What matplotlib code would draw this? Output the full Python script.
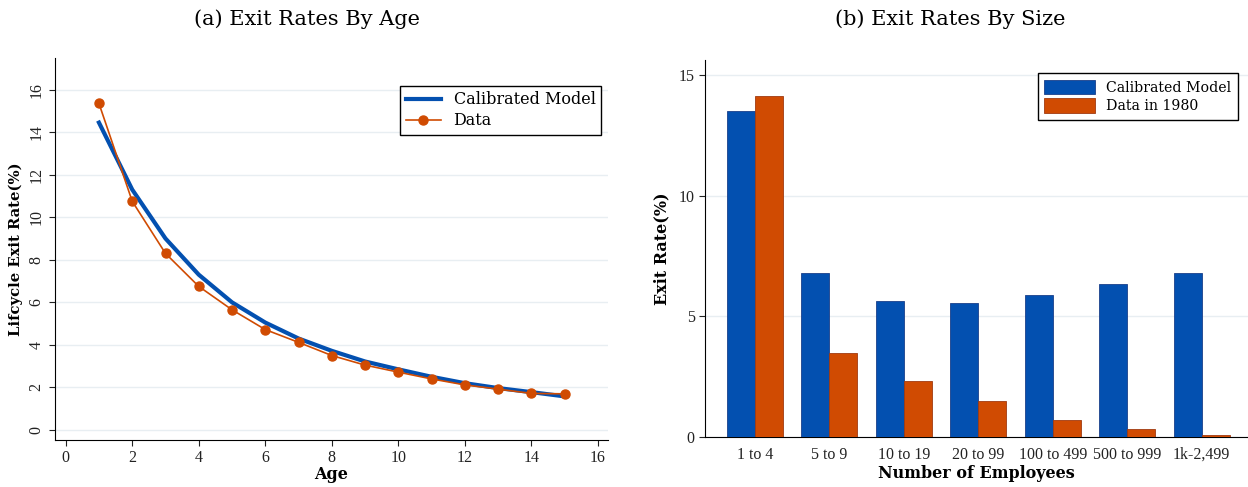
import matplotlib

matplotlib.use("Agg")
import matplotlib.pyplot as plt
import numpy as np

plt.rcParams["font.family"] = ["DejaVu Serif", "Liberation Serif"]
TICK_FONT = ["Liberation Serif", "DejaVu Serif"]

BLUE = "#0350b0"
ORANGE = "#d04b02"
GRID = "#e8eef2"

# panel (a): exit rates by age
ages = list(range(1, 16))
model_age = [14.45, 11.3, 9.0, 7.3, 6.0, 5.05, 4.3, 3.72, 3.22, 2.85, 2.5, 2.2, 1.97, 1.78, 1.58]
data_age = [15.35, 10.75, 8.3, 6.75, 5.65, 4.72, 4.12, 3.5, 3.05, 2.72, 2.4, 2.12, 1.92, 1.72, 1.7]

# panel (b): exit rates by size
size_bins = ["1 to 4", "5 to 9", "10 to 19", "20 to 99", "100 to 499", "500 to 999", "1k-2,499"]
model_size = [13.5, 6.78, 5.62, 5.55, 5.88, 6.33, 6.78]
data_size = [14.15, 3.5, 2.33, 1.5, 0.72, 0.35, 0.08]

fig = plt.figure(figsize=(12.48, 4.87), dpi=100)

# ---- (a)
ax = fig.add_axes([0.0441, 0.0965, 0.4431, 0.785])
ax.plot(ages, model_age, color=BLUE, lw=3, label="Calibrated Model", zorder=3)
ax.plot(ages, data_age, color=ORANGE, lw=1.2, marker="o", ms=6.5,
        label="Data", zorder=4)
ax.set_xlim(-0.32, 16.3)
ax.set_ylim(-0.47, 17.5)
ax.set_xticks(range(0, 17, 2))
ax.set_yticks(range(0, 17, 2))
ax.set_yticklabels([str(v) for v in range(0, 17, 2)], rotation=90, va="center")
ax.yaxis.grid(True, color=GRID, lw=1)
ax.set_axisbelow(True)
for s in ("top", "right"):
    ax.spines[s].set_visible(False)
ax.tick_params(labelsize=11.5, length=4, width=0.8, colors="#222222")
for t in ax.get_xticklabels() + ax.get_yticklabels():
    t.set_fontfamily(TICK_FONT)
ax.set_xlabel("Age", fontsize=11.5, fontweight="bold", labelpad=0)
ax.set_ylabel("Lifcycle Exit Rate(%)", fontsize=10.6, fontweight="bold", labelpad=4)
leg = ax.legend(loc="upper right", fontsize=11.5, fancybox=False, edgecolor="black",
                framealpha=1, borderpad=0.35, handlelength=2.2, labelspacing=0.25,
                bbox_to_anchor=(1.002, 0.948))
leg.get_frame().set_linewidth(1)
fig.text(307 / 1248, 1 - 19 / 487, "(a) Exit Rates By Age", fontsize=15,
         ha="center", va="center")

# ---- (b)
bx = fig.add_axes([0.5649, 0.1027, 0.4351, 0.774])
x = np.arange(len(size_bins))
w = 0.376
bx.bar(x - w / 2, model_size, w, color=BLUE, edgecolor="#1a3f8a", lw=0.6,
       label="Calibrated Model", zorder=3)
bx.bar(x + w / 2, data_size, w, color=ORANGE, edgecolor="#a03a10", lw=0.6,
       label="Data in 1980", zorder=3)
bx.set_xlim(-0.67, 6.62)
bx.set_ylim(0, 15.62)
bx.set_xticks(x)
bx.set_xticklabels(size_bins)
bx.set_yticks([0, 5, 10, 15])
bx.yaxis.grid(True, color=GRID, lw=1)
bx.set_axisbelow(True)
for s in ("top", "right"):
    bx.spines[s].set_visible(False)
bx.tick_params(axis="x", length=0, pad=7)
bx.tick_params(labelsize=11.5, width=0.8, colors="#222222")
bx.tick_params(axis="y", length=4)
for t in bx.get_xticklabels() + bx.get_yticklabels():
    t.set_fontfamily(TICK_FONT)
bx.set_xlabel("Number of Employees", fontsize=11.5, fontweight="bold", labelpad=2)
bx.set_ylabel("Exit Rate(%)", fontsize=11.5, fontweight="bold", labelpad=6)
leg = bx.legend(loc="upper right", fontsize=10.2, fancybox=False, edgecolor="black",
                framealpha=1, borderpad=0.45, handlelength=3.6, handleheight=1.2,
                labelspacing=0.25, bbox_to_anchor=(0.9945, 0.984))
leg.get_frame().set_linewidth(1)
fig.text(950 / 1248, 1 - 19 / 487, "(b) Exit Rates By Size", fontsize=15,
         ha="center", va="center")

fig.savefig("out.png", dpi=100)
